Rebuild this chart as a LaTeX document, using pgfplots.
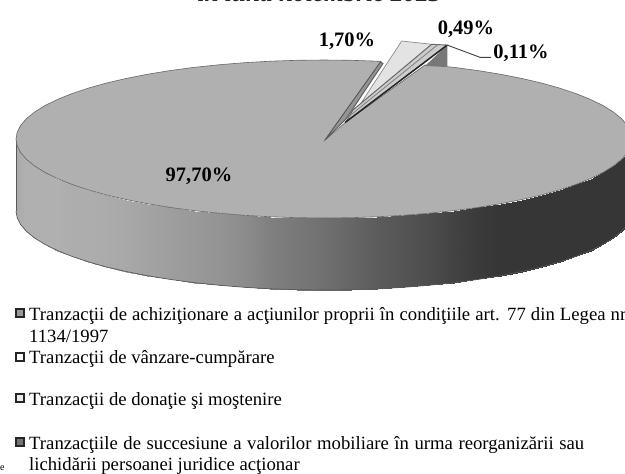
\documentclass[border=0pt]{standalone}
\usepackage{fontspec}
\setmainfont{Liberation Serif}
\usepackage{pgfplots}
\usepackage{pgfplotstable}
\pgfplotsset{compat=1.18}
\definecolor{pietop}{gray}{0.69}
\pgfplotstableread{
x y c
16 139 .66
17.2 145.9 .67
20.7 152.7 .68
26.5 159.4 .69
34.6 166 .69
44.9 172.4 .69
57.3 178.5 .69
71.7 184.3 .68
88.1 189.8 .68
106.2 194.9 .67
126 199.5 .66
147.3 203.7 .64
170 207.4 .62
193.8 210.6 .60
218.7 213.2 .58
244.3 215.3 .55
270.5 216.8 .50
297.1 217.7 .47
324 218 .44
350.9 217.7 .40
377.5 216.8 .36
403.7 215.3 .33
429.3 213.2 .30
454.2 210.6 .26
478 207.4 .23
500.7 203.7 .21
522 199.5 .21
541.8 194.9 .21
559.9 189.8 .21
576.3 184.3 .21
590.7 178.5 .21
603.1 172.4 .21
613.4 166 .21
621.5 159.4 .21
627.3 152.7 .21
630.8 145.9 .21
632 139 .21
16 211 .66
17.2 217.9 .67
20.7 224.7 .68
26.5 231.4 .69
34.6 238 .69
44.9 244.4 .69
57.3 250.5 .69
71.7 256.3 .68
88.1 261.8 .68
106.2 266.9 .67
126 271.5 .66
147.3 275.7 .64
170 279.4 .62
193.8 282.6 .60
218.7 285.2 .58
244.3 287.3 .55
270.5 288.8 .50
297.1 289.7 .47
324 290 .44
350.9 289.7 .40
377.5 288.8 .36
403.7 287.3 .33
429.3 285.2 .30
454.2 282.6 .26
478 279.4 .23
500.7 275.7 .21
522 271.5 .21
541.8 266.9 .21
559.9 261.8 .21
576.3 256.3 .21
590.7 250.5 .21
603.1 244.4 .21
613.4 238 .21
621.5 231.4 .21
627.3 224.7 .21
630.8 217.9 .21
632 211 .21
}\sidetable
\pgfplotstableread{
x y
16 211
17.2 217.9
20.7 224.7
26.5 231.4
34.6 238
44.9 244.4
57.3 250.5
71.7 256.3
88.1 261.8
106.2 266.9
126 271.5
147.3 275.7
170 279.4
193.8 282.6
218.7 285.2
244.3 287.3
270.5 288.8
297.1 289.7
324 290
350.9 289.7
377.5 288.8
403.7 287.3
429.3 285.2
454.2 282.6
478 279.4
500.7 275.7
522 271.5
541.8 266.9
559.9 261.8
576.3 256.3
590.7 250.5
603.1 244.4
613.4 238
621.5 231.4
627.3 224.7
630.8 217.9
632 211
}\sidebottom
\pgfplotstableread{
x y
325 140
346 122
425 65
447.3 66.7
454.2 67.4
478 70.6
500.7 74.3
522 78.5
541.8 83.1
559.9 88.2
576.3 93.7
590.7 99.5
603.1 105.6
613.4 112
621.5 118.6
627.3 125.3
630.8 132.1
632 139
630.8 145.9
627.3 152.7
621.5 159.4
613.4 166
603.1 172.4
590.7 178.5
576.3 184.3
559.9 189.8
541.8 194.9
522 199.5
500.7 203.7
478 207.4
454.2 210.6
429.3 213.2
403.7 215.3
377.5 216.8
350.9 217.7
324 218
297.1 217.7
270.5 216.8
244.3 215.3
218.7 213.2
193.8 210.6
170 207.4
147.3 203.7
126 199.5
106.2 194.9
88.1 189.8
71.7 184.3
57.3 178.5
44.9 172.4
34.6 166
26.5 159.4
20.7 152.7
17.2 145.9
16 139
17.2 132.1
20.7 125.3
26.5 118.6
34.6 112
44.9 105.6
57.3 99.5
71.7 93.7
88.1 88.2
106.2 83.1
126 78.5
147.3 74.3
170 70.6
193.8 67.4
218.7 64.8
244.3 62.7
270.5 61.2
297.1 60.3
324 60
350.9 60.3
377.5 61.2
381 61.4
325 140
}\toptable
\begin{document}
\begin{tikzpicture}
\begin{axis}[
  name=ax,
  x=1pt,y=1pt,scale only axis,
  xmin=0,xmax=625,ymin=0,ymax=474,y dir=reverse,
  hide axis,clip=false,
  colormap={bw}{gray(0cm)=(0);gray(1cm)=(1)},
  point meta min=0,point meta max=1,
  every axis plot/.append style={forget plot},
]
% side wall
\addplot[surf,shader=interp,mesh/rows=2,mesh/ordering=x varies,point meta=explicit]
  table[x=x,y=y,meta=c]{\sidetable};
\addplot[black!65,line width=0.7pt] table[x=x,y=y]{\sidebottom};
\addplot[black!65,line width=0.7pt] coordinates {(16,139)(16,211)};
% top surface
\addplot[fill=pietop,draw=black!60,line width=0.6pt] table[x=x,y=y]{\toptable} -- cycle;
% wall of the notch
\addplot[fill=black!42,draw=black!65,line width=0.9pt] coordinates {(380.5,62)(383,63.5)(346,119)(325,140)} -- cycle;
\addplot[fill=black!53,draw=none] coordinates {(425,66)(447.3,45)(447.3,66.7)} -- cycle;
% exploded slices
\addplot[fill=black!11,draw=black!45,line width=0.7pt] coordinates {(401.7,41)(431.7,44.3)(353,110)(356.5,110)} -- cycle;
\addplot[fill=black!20,draw=black!60,line width=0.9pt] coordinates {(431.7,44.3)(447,45)(346,122)(353,110)} -- cycle;
\addplot[black!50,line width=0.8pt] coordinates {(438,44.5)(347,118)};
\addplot[draw=black!85,line width=1.5pt] coordinates {(446.7,45.5)(345,122.5)};
% leader
\addplot[black!75,line width=0.9pt] coordinates {(447,45)(480,57.3)(491,57.3)};
% legend markers
\addplot[only marks,mark=square*,mark size=3.9pt,mark options={fill=black!40,draw=black!85,line width=1.3pt}] coordinates {(20,313)};
\addplot[only marks,mark=square*,mark size=3.9pt,mark options={fill=white,draw=black!85,line width=1.3pt}] coordinates {(20,357)};
\addplot[only marks,mark=square*,mark size=3.9pt,mark options={fill=black!8,draw=black!85,line width=1.3pt}] coordinates {(20,398)};
\addplot[only marks,mark=square*,mark size=3.9pt,mark options={fill=black!55,draw=black!85,line width=1.3pt}] coordinates {(20,442)};
% labels
\node[overlay,anchor=base,font=\fontsize{25.3}{25}\selectfont\bfseries\itshape,text=black!85] at (axis cs:319.5,1.8) {în luna noiembrie 2023};
\node[font=\fontsize{20.5}{20}\selectfont\bfseries] at (axis cs:347,41) {1,70\%};
\node[font=\fontsize{20.5}{20}\selectfont\bfseries] at (axis cs:466,29) {0,49\%};
\node[font=\fontsize{20.5}{20}\selectfont\bfseries] at (axis cs:521,53) {0,11\%};
\node[font=\fontsize{20.5}{20}\selectfont\bfseries] at (axis cs:199,176) {97,70\%};
\def\legfont{\fontsize{18.7}{18.7}\selectfont}
\node[overlay,anchor=base west,inner sep=0pt,font=\legfont] at (axis cs:29,320) {\makebox[597pt][s]{Tranzacţii de achiziţionare a acţiunilor proprii în condiţiile art. 77 din Legea nr}};
\node[anchor=base west,inner sep=0pt,font=\legfont] at (axis cs:29,342) {1134/1997};
\node[anchor=base west,inner sep=0pt,font=\legfont] at (axis cs:29,363) {Tranzacţii de vânzare-cumpărare};
\node[anchor=base west,inner sep=0pt,font=\legfont] at (axis cs:29,405) {Tranzacţii de donaţie şi moştenire};
\node[anchor=base west,inner sep=0pt,font=\legfont] at (axis cs:29,449) {\makebox[555pt][s]{Tranzacţiile de succesiune a valorilor mobiliare în urma reorganizării sau}};
\node[anchor=base west,inner sep=0pt,font=\legfont] at (axis cs:29,470) {lichidării persoanei juridice acţionar};
\node[anchor=base west,inner sep=0pt,font=\fontsize{10}{10}\selectfont] at (axis cs:0,470) {e};
\end{axis}
\pgfresetboundingbox
\path[use as bounding box] (ax.south west) rectangle (ax.north east);
\end{tikzpicture}
\end{document}
